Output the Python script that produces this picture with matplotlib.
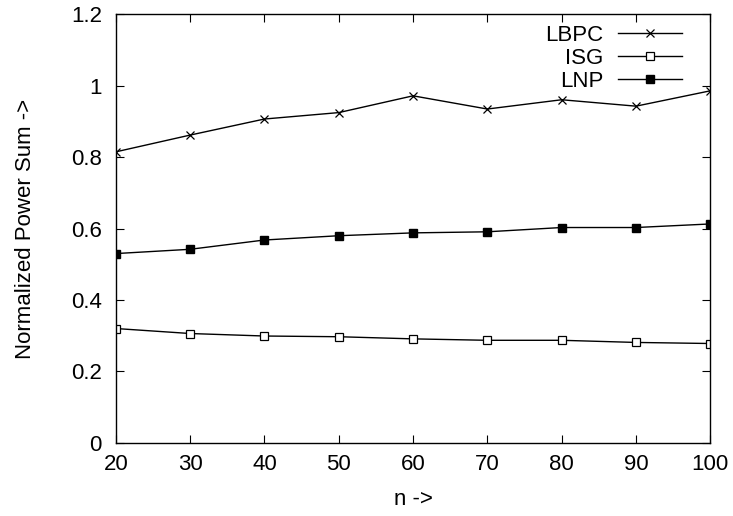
import matplotlib
matplotlib.use("Agg")
import matplotlib.pyplot as plt
from matplotlib.ticker import FuncFormatter

plt.rcParams['font.family'] = ['Liberation Sans', 'DejaVu Sans']

n_values = [20, 30, 40, 50, 60, 70, 80, 90, 100]
lbpc = [0.815, 0.862, 0.907, 0.925, 0.972, 0.935, 0.961, 0.943, 0.986]
isg = [0.320, 0.306, 0.299, 0.297, 0.291, 0.287, 0.287, 0.281, 0.278]
lnp = [0.530, 0.542, 0.568, 0.580, 0.588, 0.591, 0.603, 0.603, 0.613]

x_ticks = [20, 30, 40, 50, 60, 70, 80, 90, 100]
y_ticks = [0, 0.2, 0.4, 0.6, 0.8, 1.0, 1.2]

FS = 16

fig = plt.figure(figsize=(7.33, 5.16), dpi=100)
ax = fig.add_axes([0.158, 0.142, 0.811, 0.830])

ax.plot(n_values, lbpc, color='black', lw=1.0, marker='x', markersize=6,
        markeredgewidth=0.9, label='LBPC')
ax.plot(n_values, isg, color='black', lw=1.0, marker='s', markersize=5.5,
        markerfacecolor='white', markeredgewidth=0.9, label='ISG')
ax.plot(n_values, lnp, color='black', lw=1.0, marker='s', markersize=5.5,
        markerfacecolor='black', label='LNP')

ax.set_xlim(20, 100)
ax.set_ylim(0, 1.2)
ax.set_xticks(x_ticks)
ax.set_yticks(y_ticks)
ax.yaxis.set_major_formatter(FuncFormatter(lambda v, p: '%g' % v))
ax.tick_params(direction='in', length=6, width=0.8, top=True, right=True,
               labelsize=FS)
ax.tick_params(axis='x', pad=8)
ax.tick_params(axis='y', pad=10)
for s in ax.spines.values():
    s.set_linewidth(1.0)

ax.set_xlabel('n ->', fontsize=FS)
ax.set_ylabel('Normalized Power Sum ->', fontsize=FS)
ax.xaxis.set_label_coords(0.5, -0.108)
ax.yaxis.set_label_coords(-0.134, 0.5)

ax.legend(loc='upper right', bbox_to_anchor=(0.953, 0.976), frameon=False,
          markerfirst=False, fontsize=FS, handlelength=2.9, handletextpad=0.65,
          labelspacing=0.1, borderpad=0, borderaxespad=0)

fig.savefig('out.png', dpi=100)
